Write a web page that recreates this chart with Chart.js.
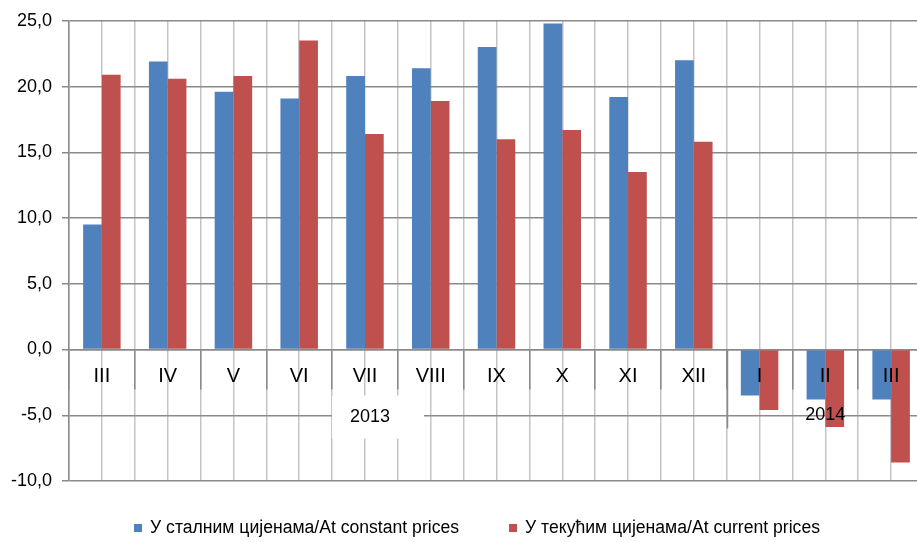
<!DOCTYPE html>
<html><head><meta charset="utf-8">
<script src="https://cdn.jsdelivr.net/npm/chart.js@4/dist/chart.umd.min.js"></script>
<style>
html,body{margin:0;padding:0;overflow:hidden;background:#fff;width:917px;height:542px}
#wrap{width:930px;height:542px}
</style></head>
<body><div id="wrap"><canvas id="c" width="930" height="542"></canvas></div>
<script>
// ---- data ----
const months = ['III','IV','V','VI','VII','VIII','IX','X','XI','XII','I','II','III'];
const yearLabels = ['2013','2014'];
const yearStartIndex = [0, 10];
const constantPrices = [9.5, 21.9, 19.6, 19.1, 20.8, 21.4, 23.0, 24.8, 19.2, 22.0, -3.5, -3.8, -3.8];
const currentPrices  = [20.9, 20.6, 20.8, 23.5, 16.4, 18.9, 16.0, 16.7, 13.5, 15.8, -4.6, -5.9, -8.6];
const seriesNames = ['У сталним цијенама/At constant prices', 'У текућим цијенама/At current prices'];
const yMin = -10, yMax = 25, yStep = 5;

const NARROW = "'Liberation Sans Narrow', 'Arial Narrow', 'Liberation Sans', Arial, sans-serif";
const REG = "'Liberation Sans', Arial, sans-serif";
const colors = ['#4F81BD', '#C0504D'];
const gridDark = '#8a8a8a';
const gridLight = '#c4c4c4';

const extrasPlugin = {
  id: 'extras',
  afterDatasetsDraw(chart) {
    const ctx = chart.ctx, xs = chart.scales.x, ys = chart.scales.y;
    const y0 = ys.getPixelForValue(0);
    const half = (xs.getPixelForValue(1) - xs.getPixelForValue(0)) / 2;
    ctx.save();
    // year separator between XII and I
    const sepX = xs.getPixelForValue(yearStartIndex[1]) - half;
    ctx.strokeStyle = gridDark; ctx.lineWidth = 1.5;
    ctx.beginPath(); ctx.moveTo(Math.round(sepX) + 0.5, y0); ctx.lineTo(Math.round(sepX) + 0.5, y0 + 79); ctx.stroke();
    // 2013 label with white box
    const x13 = xs.getPixelForValue(4) + 5;
    ctx.fillStyle = '#fff';
    ctx.fillRect(x13 - 38, y0 + 46, 92, 43);
    ctx.fillStyle = '#000';
    ctx.font = "18px " + NARROW;
    ctx.textAlign = 'center'; ctx.textBaseline = 'middle';
    ctx.fillText(yearLabels[0], x13, y0 + 68);
    const x14 = xs.getPixelForValue(11);
    ctx.fillText(yearLabels[1], x14, y0 + 66);
    ctx.restore();
  },
  afterDraw(chart) {
    const ctx = chart.ctx;
    ctx.save();
    ctx.font = "17.6px " + NARROW;
    ctx.textBaseline = 'middle'; ctx.textAlign = 'left';
    const box = 8, gap = 8, between = 50;
    const w = seriesNames.map(s => ctx.measureText(s).width);
    const total = w[0] + w[1] + 2 * (box + gap) + between;
    let x = 477 - total / 2;
    const y = 528;
    for (let i = 0; i < 2; i++) {
      ctx.fillStyle = colors[i];
      ctx.fillRect(x, y - 4, box, box);
      ctx.fillStyle = '#000';
      ctx.fillText(seriesNames[i], x + box + gap, y);
      x += box + gap + w[i] + between;
    }
    ctx.restore();
  }
};

new Chart(document.getElementById('c'), {
  type: 'bar',
  data: {
    labels: months,
    datasets: [
      { label: seriesNames[0], data: constantPrices, backgroundColor: colors[0], borderWidth: 0, categoryPercentage: 0.57, barPercentage: 1 },
      { label: seriesNames[1], data: currentPrices, backgroundColor: colors[1], borderWidth: 0, categoryPercentage: 0.57, barPercentage: 1 }
    ]
  },
  options: {
    responsive: false,
    animation: false,
    layout: { padding: { top: 19, right: 6, bottom: 61, left: 0 } },
    plugins: { legend: { display: false }, tooltip: { enabled: false } },
    scales: {
      x: {
        position: { y: 0 },
        offset: true,
        grid: { offset: true, color: gridLight, lineWidth: 1.5, tickColor: gridDark, tickLength: 39, drawTicks: true },
        border: { color: gridDark, width: 1.5 },
        ticks: { z: 1, padding: -24, color: '#000', font: { size: 20, family: NARROW }, maxRotation: 0, autoSkip: false }
      },
      x2: {
        type: 'category',
        position: { y: 0 },
        offset: true,
        grid: { offset: false, color: gridLight, lineWidth: 1.5, drawTicks: false },
        border: { display: false },
        ticks: { display: false }
      },
      y: {
        min: yMin, max: yMax,
        ticks: { stepSize: yStep, padding: 10, color: '#000', font: { size: 18, family: REG },
          callback: v => v.toFixed(1).replace('.', ',') },
        grid: { color: gridDark, lineWidth: 1.5, tickLength: 7, tickColor: gridDark },
        border: { color: gridDark, width: 1.5 },
        afterFit: s => { s.width = 69; }
      }
    }
  },
  plugins: [extrasPlugin]
});
</script>
</body></html>
